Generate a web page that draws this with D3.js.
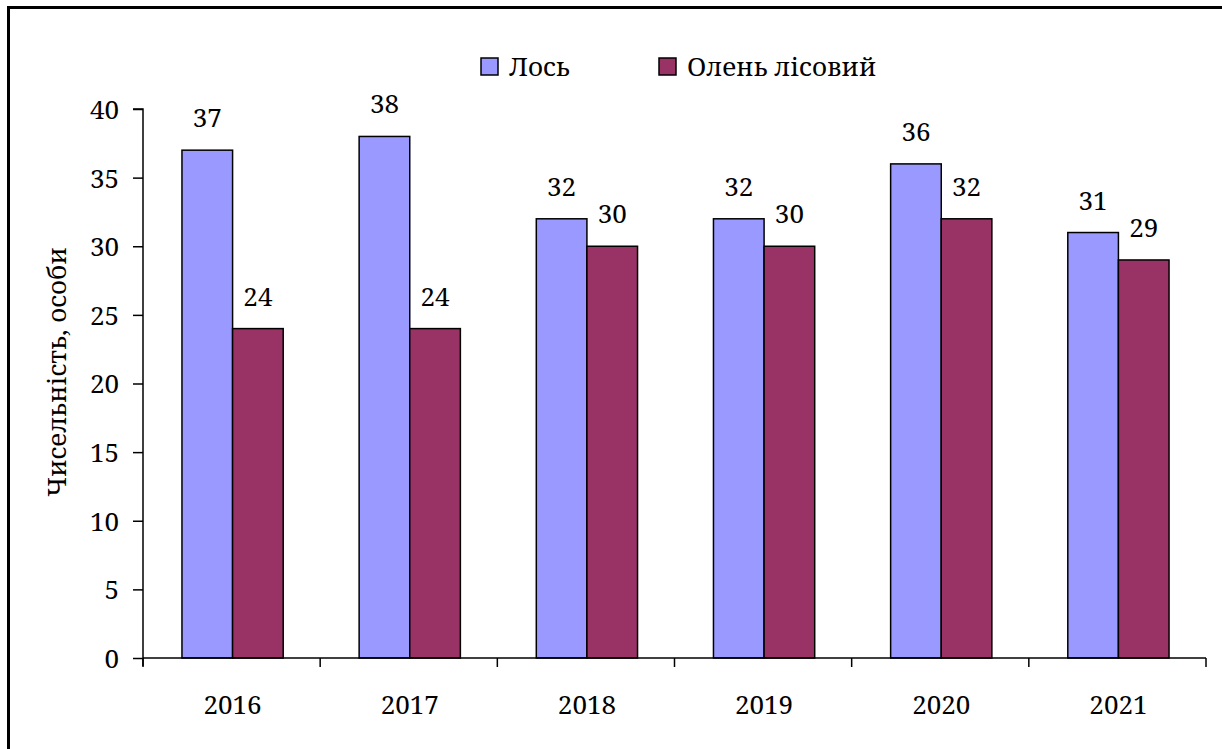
<!DOCTYPE html>
<html><head><meta charset="utf-8">
<script src="https://cdn.jsdelivr.net/npm/d3@7/dist/d3.min.js"></script>
<style>body{margin:0;background:#fff}svg{display:block}</style>
</head><body>
<svg id="c" width="1222" height="749"></svg>
<script>
const years = ["2016","2017","2018","2019","2020","2021"];
const seriesNames = ["Лось","Олень лісовий"];
const elk = [37,38,32,32,36,31];
const deer = [24,24,30,30,32,29];
const yTicks = [0,5,10,15,20,25,30,35,40];
const colors = ["#9999ff","#993366"];
const FONT = "Noto Serif";
const FS = 26;

const svg = d3.select("#c");
svg.append("rect").attr("x",8.5).attr("y",7.5).attr("width",1240).attr("height",780)
  .attr("fill","none").attr("stroke","#000").attr("stroke-width",3);

const pL=143,pR=1206,pT=109,pB=658;
const x = d3.scaleBand().domain(years).range([pL,pR]);
const y = d3.scaleLinear().domain([0,40]).range([pB,pT]);
const bw = x.bandwidth()/3.5;
const series=[elk,deer];

const g = svg.append("g");
series.forEach((vals,si)=>{
  g.selectAll(null).data(years).enter().append("rect")
    .attr("x",d=>x(d)+x.bandwidth()/2 - bw + si*bw + 1)
    .attr("y",(d,i)=>y(vals[i]))
    .attr("width",bw).attr("height",(d,i)=>pB-y(vals[i]))
    .attr("fill",colors[si]).attr("stroke","#000").attr("stroke-width",1.5);
  g.selectAll(null).data(years).enter().append("text")
    .attr("x",d=>x(d)+x.bandwidth()/2 - bw/2 + si*bw + 1)
    .attr("y",(d,i)=>y(vals[i])-23)
    .attr("text-anchor","middle").attr("font-family",FONT).attr("font-size",FS).attr("fill","#000")
    .text((d,i)=>vals[i]);
});

// y axis
const ya = svg.append("g").attr("transform",`translate(${pL},0)`)
  .call(d3.axisLeft(y).tickValues(yTicks).tickSize(10).tickPadding(14));
ya.attr("font-family",FONT).attr("font-size",FS);
ya.select(".domain").attr("stroke","#000").attr("stroke-width",1.5).attr("d",`M-10,${pT}H0V${pB+8}`);
ya.selectAll(".tick line").attr("stroke","#000").attr("stroke-width",1.5);
ya.selectAll("text").attr("font-family",FONT).attr("font-size",FS).attr("fill","#000").attr("dy","0.36em");

// x axis
const xa = svg.append("g").attr("transform",`translate(0,${pB})`);
xa.append("line").attr("x1",pL).attr("x2",pR).attr("y1",0).attr("y2",0).attr("stroke","#000").attr("stroke-width",1.5);
const bounds = years.map(d=>x(d)).concat([pR]);
xa.selectAll(null).data(bounds).enter().append("line")
  .attr("x1",d=>d).attr("x2",d=>d).attr("y1",0).attr("y2",9).attr("stroke","#000").attr("stroke-width",1.5);
xa.selectAll(null).data(years).enter().append("text")
  .attr("x",d=>x(d)+x.bandwidth()/2+1).attr("y",56).attr("text-anchor","middle")
  .attr("font-family",FONT).attr("font-size",FS).attr("fill","#000").text(d=>d);

// axis title
svg.append("text").attr("transform","translate(66,372) rotate(-90)").attr("text-anchor","middle")
  .attr("font-family",FONT).attr("font-size",FS).attr("fill","#000").text("Чисельність, особи");

// legend
const leg = [{x:481,tx:509,t:seriesNames[0],c:colors[0]},{x:659,tx:687,t:seriesNames[1],c:colors[1]}];
leg.forEach(l=>{
  svg.append("rect").attr("x",l.x).attr("y",58).attr("width",17).attr("height",17)
    .attr("fill",l.c).attr("stroke","#000").attr("stroke-width",1.5);
  svg.append("text").attr("x",l.tx).attr("y",76).attr("font-family",FONT).attr("font-size",FS).attr("fill","#000").text(l.t);
});
</script>
</body></html>
